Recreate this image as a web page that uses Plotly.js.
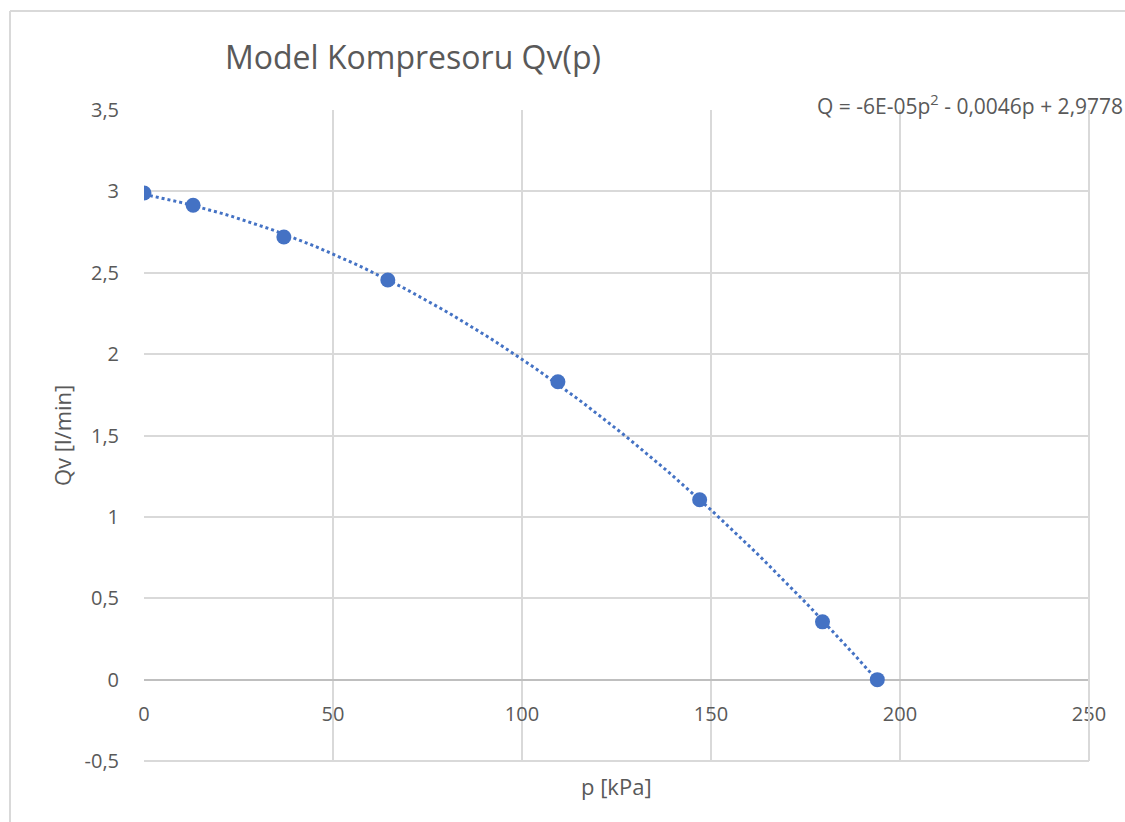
<!DOCTYPE html>
<html>
<head>
<meta charset="utf-8">
<script src="https://cdn.plot.ly/plotly-3.0.1.min.js"></script>
<style>html,body{margin:0;padding:0;background:#fff;}#chart{width:1125px;height:822px;}</style>
</head>
<body>
<div id="chart"></div>
<script>
// Data
var pressure = [0, 13, 37, 64.5, 109.5, 147, 179.5, 194];
var flow = [2.99, 2.915, 2.72, 2.455, 1.83, 1.105, 0.355, 0.0];
var xTicks = [0, 50, 100, 150, 200, 250];
var yTicks = [-0.5, 0, 0.5, 1, 1.5, 2, 2.5, 3, 3.5];
var chartTitle = 'Model Kompresoru Qv(p)';
var xTitle = 'p [kPa]';
var yTitle = 'Qv [l/min]';
var equationText = 'Q = -6E-05p<sup>2</sup> - 0,0046p + 2,9778';

// Quadratic least-squares trendline (like Excel's polynomial trendline)
function polyfit2(xs, ys) {
  var n = xs.length, S = [0,0,0,0,0], T = [0,0,0];
  for (var i = 0; i < n; i++) {
    var x = xs[i], y = ys[i], p = 1;
    for (var k = 0; k < 5; k++) { S[k] += p; if (k < 3) T[k] += p * y; p *= x; }
  }
  var A = [[S[0],S[1],S[2],T[0]],[S[1],S[2],S[3],T[1]],[S[2],S[3],S[4],T[2]]];
  for (var c = 0; c < 3; c++) {
    for (var r = c + 1; r < 3; r++) {
      var f = A[r][c] / A[c][c];
      for (var j = c; j < 4; j++) A[r][j] -= f * A[c][j];
    }
  }
  var coef = [0,0,0];
  for (var r2 = 2; r2 >= 0; r2--) {
    var s = A[r2][3];
    for (var j2 = r2 + 1; j2 < 3; j2++) s -= A[r2][j2] * coef[j2];
    coef[r2] = s / A[r2][r2];
  }
  return coef;
}
var cf = polyfit2(pressure, flow);
var xmin = Math.min.apply(null, pressure), xmax = Math.max.apply(null, pressure);
var trendX = [], trendY = [];
for (var i = 0; i <= 100; i++) {
  var xv = xmin + (xmax - xmin) * i / 100;
  trendX.push(xv);
  trendY.push(cf[0] + cf[1] * xv + cf[2] * xv * xv);
}

var fontFam = 'Open Sans, Liberation Sans, sans-serif';
var txtColor = '#595959';

var traces = [
  {x: trendX, y: trendY, mode: 'lines', type: 'scatter',
   line: {color: '#4472C4', width: 3, dash: 'dot'}, hoverinfo: 'skip', showlegend: false},
  {x: pressure, y: flow, mode: 'markers', type: 'scatter',
   marker: {color: '#4472C4', size: 15}, showlegend: false}
];

var layout = {
  width: 1125, height: 822,
  margin: {l: 144, r: 36, t: 110, b: 61},
  paper_bgcolor: '#ffffff', plot_bgcolor: '#ffffff',
  separators: ', ',
  showlegend: false,
  font: {family: fontFam, color: txtColor, size: 20},
  title: {text: chartTitle, font: {family: fontFam, size: 32, color: txtColor},
          x: 225/1125, xanchor: 'left', y: 1 - 58/822, yanchor: 'middle'},
  xaxis: {
    range: [0, 250], tickvals: xTicks, ticktext: xTicks.map(String),
    showgrid: true, gridcolor: '#d9d9d9', gridwidth: 2,
    zeroline: false, showline: false,
    anchor: 'free', position: 0.125,
    ticks: 'outside', ticklen: 16, tickcolor: 'rgba(0,0,0,0)',
    tickfont: {size: 20, color: txtColor}, fixedrange: true
  },
  yaxis: {
    range: [-0.5, 3.5], tickvals: yTicks,
    ticktext: yTicks.map(function(v){ return String(v).replace('.', ','); }),
    showgrid: true, gridcolor: '#d9d9d9', gridwidth: 2,
    zeroline: true, zerolinecolor: '#bfbfbf', zerolinewidth: 2,
    showline: false,
    ticks: 'outside', ticklen: 20, tickcolor: 'rgba(0,0,0,0)',
    tickfont: {size: 20, color: txtColor}, fixedrange: true
  },
  shapes: [
    {type: 'line', xref: 'paper', yref: 'paper', x0: 0, x1: 1, y0: 0, y1: 0,
     line: {color: '#d9d9d9', width: 2}},
    {type: 'line', xref: 'paper', yref: 'paper', x0: 1, x1: 1, y0: 0, y1: 1,
     line: {color: '#d9d9d9', width: 2}},
    {type: 'line', xref: 'paper', yref: 'paper', x0: -134/945, x1: -134/945, y0: -61/651, y1: 1 + 99/651,
     line: {color: '#d9d9d9', width: 2}},
    {type: 'line', xref: 'paper', yref: 'paper', x0: -134/945, x1: 1 + 36/945, y0: 1 + 99/651, y1: 1 + 99/651,
     line: {color: '#d9d9d9', width: 2}}
  ],
  annotations: [
    {text: equationText, xref: 'paper', yref: 'paper', x: 1 + 36/945, y: 1 + 6/651,
     xanchor: 'right', yanchor: 'middle', showarrow: false,
     font: {size: 21, color: txtColor, family: fontFam}},
    {text: xTitle, xref: 'paper', yref: 'paper', x: 0.5, y: -25/651,
     xanchor: 'center', yanchor: 'middle', showarrow: false,
     font: {size: 22, color: txtColor, family: fontFam}},
    {text: yTitle, xref: 'paper', yref: 'paper', x: -82/945, y: (761-436)/651,
     xanchor: 'center', yanchor: 'middle', textangle: -90, showarrow: false,
     font: {size: 22, color: txtColor, family: fontFam}}
  ]
};

Plotly.newPlot('chart', traces, layout, {displayModeBar: false, staticPlot: true});
</script>
</body>
</html>
